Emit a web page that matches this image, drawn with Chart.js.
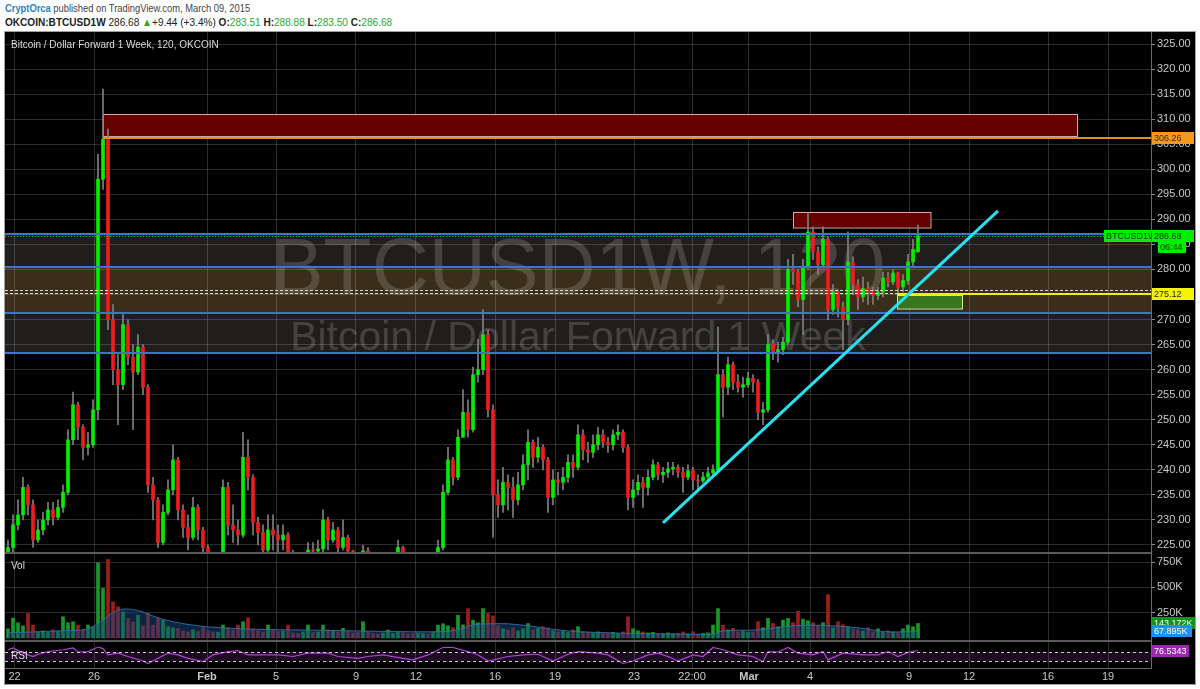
<!DOCTYPE html>
<html>
<head>
<meta charset="utf-8">
<script src="https://cdn.jsdelivr.net/npm/chart.js@4.4.1/dist/chart.umd.min.js"></script>
<style>
body{margin:0;background:#fff;width:1200px;height:689px;overflow:hidden;font-family:"Liberation Sans",Arial,sans-serif}
#h1{position:absolute;left:5px;top:1px;font-size:11px;line-height:14px;color:#444;white-space:nowrap;transform:scaleX(0.85);transform-origin:0 0}
#h2{position:absolute;left:5px;top:15px;font-size:11px;line-height:14px;color:#222;white-space:nowrap;transform:scaleX(0.915);transform-origin:0 0}
#h1 .who{color:#2a84c6;font-weight:bold}
#h2 .g{color:#2ea82e}
#box{position:absolute;left:5px;top:32px;width:1190px;height:652px;background:#000;box-shadow:0 0 0 1px #a0a0a0}
</style>
</head>
<body>
<div id="h1"><span class="who">CryptOrca</span> published on TradingView.com, March 09, 2015</div>
<div id="h2"><b>OKCOIN:BTCUSD1W</b> 286.68 <span class="g">&#9650;</span>+9.44 (+3.4%) <b>O:</b><span class="g">283.51</span> <b>H:</b><span class="g">288.88</span> <b>L:</b><span class="g">283.50</span> <b>C:</b><span class="g">286.68</span></div>
<div id="box"><canvas id="c" width="1190" height="652"></canvas></div>
<script>
// 2h-ish bars (bar index on x)
const opens = [
  222, 224.5, 229, 231, 236.5, 233, 226, 228, 230, 232,
  230.5, 232.5, 235.5, 246, 253, 248.5, 244.5, 245, 252, 298,
  306, 270, 260, 257, 269, 262.5, 259.5, 264.5, 256.5, 237,
  234, 225.5, 231.5, 236, 242, 232, 228.5, 226.5, 232.5, 228,
  224.5, 221, 220, 221, 236.5, 229, 228, 227, 242.5, 238.5,
  229.5, 227.5, 224, 228, 227, 226, 227, 223, 221, 220,
  221, 224, 223.8, 224.2, 230, 226, 228, 224.5, 226.5, 223.8,
  221, 220.5, 223.8, 221, 220, 219.5, 220, 221.5, 222, 224.5,
  222, 219.5, 218.5, 219, 220, 219, 221, 224.5, 235.5, 242,
  238.5, 246.5, 251.5, 248, 259, 260, 267, 252, 235, 233,
  237.5, 236.5, 234, 237, 241, 245.5, 242.5, 244.5, 242, 234.5,
  238, 237.5, 238.5, 241.5, 240.5, 247, 244, 243.5, 245, 247,
  245.5, 245, 247, 247.5, 244.5, 234.5, 236, 237.5, 236.5, 238.5,
  241, 239, 239.5, 240.2, 240.5, 239.5, 238.5, 239.8, 238, 237.8,
  238.6, 239.4, 240, 259, 256.5, 261, 257.5, 256.5, 257, 258.3,
  257.5, 251.5, 252, 265, 263.5, 264, 265.5, 280, 279.5, 274,
  280.5, 287.5, 283.5, 281, 286, 272, 275.5, 272.5, 270, 281.5,
  277, 274.5, 276.2, 275.5, 274.8, 275.5, 278.3, 277.5, 279.3, 276.5,
  277.8, 281.5, 283.51
];
const highs = [
  226, 231, 234, 238.5, 237, 234, 230, 231.5, 233.5, 233.5,
  234, 237, 248, 255.5, 253.5, 249, 247.5, 254, 303, 316,
  308, 273, 263, 271, 270, 265, 267, 265, 257, 238.5,
  234.5, 233, 238, 245, 242.5, 233, 231, 234.5, 233, 228.5,
  225, 222.5, 223, 238, 237.5, 233, 230, 247.5, 246, 239,
  230.5, 229, 231, 231, 229, 229, 227.5, 224, 222.5, 223,
  225.5, 225.5, 226, 232, 230.5, 229.5, 228.5, 230, 227, 224,
  222.5, 225, 224.5, 222, 222, 222.5, 223, 223.2, 226, 224.8,
  222.5, 221, 221.5, 222, 221.5, 222.5, 226, 237, 244.5, 242.5,
  248, 256, 254, 260.5, 266, 272, 268, 253, 238, 240.5,
  239, 238.5, 239.5, 243, 248, 246, 246.5, 245, 242.5, 240,
  239.5, 240.5, 243, 243, 249, 248, 245.5, 247, 248.5, 248,
  246.5, 248, 249, 248, 245, 238, 239, 238.5, 240, 242,
  241.5, 240.5, 241.5, 241.5, 241, 240.5, 241, 240.5, 239, 239.5,
  240.5, 241, 268.5, 260, 262.5, 261.5, 259, 258.5, 259.5, 259,
  258, 253.5, 267, 266, 265.5, 266.5, 282, 283, 280, 282,
  291.3, 288.5, 284.5, 288.5, 286.5, 277, 276, 273.5, 287.5, 282.5,
  278, 278.5, 277.5, 276.5, 276.5, 279.5, 279.5, 280, 279.5, 279,
  283, 286, 288.88
];
const lows = [
  221, 223, 228, 230, 231, 224.5, 225.5, 227, 229, 229,
  230, 231.5, 235, 245, 246, 242, 243, 244.5, 250, 296,
  268, 257, 249, 256, 261, 248, 259, 255, 235.5, 230,
  224.5, 225, 231, 235, 230, 226.5, 224, 226, 226, 222,
  219, 218, 219, 221, 227, 225.5, 225, 226.5, 236, 227,
  225, 223, 223, 224, 223.5, 224, 221, 219, 218, 219,
  220.5, 222, 222.5, 223.5, 224, 225.5, 223.5, 224, 222, 219,
  219, 220, 219, 218, 218, 218.5, 219, 220, 221, 220,
  218, 217, 217.5, 218, 217.5, 218.5, 220, 224, 235, 237,
  238, 246.5, 246.5, 247.5, 257.5, 259, 250.5, 226.5, 230.5, 231.5,
  232, 230.5, 233, 236, 238, 240.5, 241.5, 240, 231.5, 233,
  235, 236, 237.5, 238.5, 240, 242, 241.5, 242.5, 244, 244.5,
  243.5, 244, 246, 243.5, 232, 232.5, 235, 232.5, 235, 238,
  238, 237.5, 238.5, 239, 238.5, 235.5, 238, 236, 236, 237.5,
  238, 238.5, 239.5, 250.5, 255, 256, 255.5, 254.5, 256.5, 255.5,
  250, 249, 251.5, 262, 261.5, 263, 265, 277, 272.5, 267,
  280, 282, 279, 280.5, 270, 271, 270.5, 264, 269, 275,
  272, 273.5, 273, 273, 274, 274.5, 276.5, 277, 275, 275.5,
  277, 280.5, 283.5
];
const closes = [
  224.5, 229, 231, 236.5, 233, 226, 228, 230, 232, 230.5,
  232.5, 235.5, 246, 253, 248.5, 244.5, 245, 252, 298, 306,
  270, 260, 257, 269, 262.5, 259.5, 264.5, 256.5, 237, 234,
  225.5, 231.5, 236, 242, 232, 228.5, 226.5, 232.5, 228, 224.5,
  221, 220, 221, 236.5, 229, 228, 227, 242.5, 238.5, 229.5,
  227.5, 224, 228, 227, 226, 227, 223, 221, 220, 221,
  224, 223.8, 224.2, 230, 226, 228, 224.5, 226.5, 223.8, 221,
  220.5, 223.8, 221, 220, 219.5, 220, 221.5, 222, 224.5, 222,
  219.5, 218.5, 219, 220, 219, 221, 224.5, 235.5, 242, 238.5,
  246.5, 251.5, 248, 259, 260, 267, 252, 235, 233, 237.5,
  236.5, 234, 237, 241, 245.5, 242.5, 244.5, 242, 234.5, 238,
  237.5, 238.5, 241.5, 240.5, 247, 244, 243.5, 245, 247, 245.5,
  245, 247, 247.5, 244.5, 234.5, 236, 237.5, 236.5, 238.5, 241,
  239, 239.5, 240.2, 240.5, 239.5, 238.5, 239.8, 238, 237.8, 238.6,
  239.4, 240, 259, 256.5, 261, 257.5, 256.5, 257, 258.3, 257.5,
  251.5, 252, 265, 263.5, 264, 265.5, 280, 279.5, 274, 280.5,
  287.5, 283.5, 281, 286, 272, 275.5, 272.5, 270, 281.5, 277,
  274.5, 276.2, 275.5, 274.8, 275.5, 278.3, 277.5, 279.3, 276.5, 277.8,
  281.5, 284, 286.68
];
// volume in K
const vols = [
  90, 196, 150, 120, 242, 127, 60, 70, 55, 80,
  65, 209, 150, 160, 127, 80, 127, 110, 742, 490,
  775, 356, 307, 258, 193, 160, 225, 120, 242, 127,
  193, 176, 111, 100, 95, 70, 60, 80, 65, 111,
  70, 60, 55, 127, 100, 80, 127, 160, 200, 90,
  70, 60, 127, 80, 65, 70, 127, 50, 45, 60,
  127, 55, 60, 127, 80, 70, 60, 95, 65, 50,
  55, 160, 60, 45, 40, 50, 78, 45, 60, 50,
  40, 45, 50, 45, 40, 55, 127, 140, 120, 100,
  225, 130, 290, 176, 150, 290, 242, 218, 120, 90,
  80, 100, 70, 90, 143, 80, 95, 111, 100, 70,
  60, 65, 55, 80, 111, 60, 55, 50, 60, 45,
  50, 55, 45, 60, 209, 90, 70, 60, 50, 55,
  45, 40, 50, 40, 45, 60, 40, 62, 40, 45,
  50, 127, 290, 127, 80, 95, 60, 70, 55, 60,
  160, 100, 193, 143, 110, 176, 193, 150, 265, 186,
  170, 150, 120, 150, 428, 100, 160, 130, 110, 90,
  80, 70, 100, 60, 90, 55, 70, 60, 50, 90,
  127, 110, 143.172
];
const volMA = [[0,50],[10,70],[16,90],[19,180],[21,250],[23,285],[26,270],[30,200],[33,160],[38,120],[43,100],[50,85],[60,78],[75,65],[86,62],[90,80],[93,130],[97,140],[100,140],[104,120],[110,80],[115,60],[125,45],[135,38],[141,38],[143,70],[150,80],[155,110],[160,127],[165,120],[170,100],[176,60],[182,67.895]];
const rsiLine = [[0,80],[1,88],[3,65],[5,50],[6,60],[8,72],[11,80],[13,88],[14,70],[16,72],[18,92],[19,85],[20,57],[22,65],[24,50],[27,30],[28,19],[30,42],[32,65],[34,57],[36,42],[39,27],[41,57],[44,72],[46,76],[48,57],[51,57],[54,57],[57,50],[60,65],[64,65],[66,50],[70,42],[72,50],[75,57],[79,42],[81,35],[84,57],[87,90],[89,90],[92,72],[94,57],[96,30],[100,50],[103,57],[106,60],[109,30],[112,60],[114,72],[118,65],[120,57],[123,19],[125,30],[128,57],[130,65],[132,50],[134,30],[137,57],[139,50],[141,90],[143,80],[146,57],[149,50],[151,27],[152,72],[154,70],[156,90],[158,65],[161,57],[163,72],[164,35],[167,65],[171,57],[174,57],[176,72],[178,50],[180,68],[182,76.5343]];

const xTickPos = [1.3, 17.2, 39.8, 53.6, 69.6, 81.6, 97.4, 109.4, 125.2, 136.8, 148.2, 160.4, 180.2, 192.2, 208, 220];
const xTickLabels = ['22','26','Feb','5','9','12','16','19','23','22:00','Mar','4','9','12','16','19'];
const priceTicks = [225,230,235,240,245,250,255,260,265,270,275,280,285,290,295,300,305,310,315,320,325];
const volTicks = [250, 500, 750];

// drawings on the price pane
const bandOuter = [263.4, 287.0];
const bandInner = [271.4, 280.4];
const blueLevels = [287.0, 280.4, 271.4, 263.4];
const dashLevels = [275.9, 275.3];
const redZones = [[19, 213.8, 306.6, 311.0], [157, 184.5, 288.4, 291.5]];
const greenZone = [177.8, 190.8, 272.2, 274.9];
const orangeLine = [19, 306.26];
const yellowLine = [177.8, 275.12];
const lastPrice = 286.68;
const trend = [[131, 229.4], [198, 291.7]];
const rsiBand = [30, 70];

const idx = closes.map((c, i) => i);
const up = i => closes[i] >= opens[i];
const FONT = '"Liberation Sans", Arial, sans-serif';

function tag(ctx, x, yc, w, text, bg, fg) {
  ctx.fillStyle = bg;
  ctx.fillRect(x, Math.round(yc - 6), w, 12);
  ctx.fillStyle = fg;
  ctx.font = '9px ' + FONT;
  ctx.textAlign = 'left';
  ctx.textBaseline = 'middle';
  ctx.fillText(text, x + 2, Math.round(yc) + 0.5);
}

function hline(ctx, x0, x1, y, color, w, dash) {
  ctx.beginPath();
  ctx.strokeStyle = color;
  ctx.lineWidth = w;
  ctx.setLineDash(dash || []);
  ctx.moveTo(x0, y);
  ctx.lineTo(x1, y);
  ctx.stroke();
  ctx.setLineDash([]);
}

const drawings = {
  id: 'drawings',
  beforeDraw(chart) {
    const {ctx, chartArea: a, scales} = chart;
    const y = scales.y, yr = scales.yr;
    ctx.save();
    ctx.fillStyle = '#1f1e1c';
    ctx.fillRect(a.left, y.getPixelForValue(bandOuter[1]), a.width, y.getPixelForValue(bandOuter[0]) - y.getPixelForValue(bandOuter[1]));
    ctx.fillStyle = '#3a2d19';
    ctx.fillRect(a.left, y.getPixelForValue(bandInner[1]), a.width, y.getPixelForValue(bandInner[0]) - y.getPixelForValue(bandInner[1]));
    ctx.fillStyle = '#1c0b22';
    ctx.fillRect(a.left, yr.getPixelForValue(rsiBand[1]), a.width, yr.getPixelForValue(rsiBand[0]) - yr.getPixelForValue(rsiBand[1]));
    ctx.restore();
  },
  beforeDatasetsDraw(chart) {
    const {ctx, chartArea: a, scales} = chart;
    const x = scales.x, y = scales.y;
    ctx.save();
    ctx.beginPath();
    ctx.rect(a.left, y.top, a.width, y.height);
    ctx.clip();
    // watermark
    const cx = (a.left + a.right) / 2;
    ctx.fillStyle = 'rgba(255,255,255,0.16)';
    ctx.textAlign = 'center';
    ctx.textBaseline = 'middle';
    ctx.font = '79px ' + FONT;
    ctx.fillText('BTCUSD1W, 120', cx, 240);
    ctx.font = '41px ' + FONT;
    ctx.fillText('Bitcoin / Dollar Forward 1 Week', cx, 307);
    // zones
    redZones.forEach(z => {
      const x0 = x.getPixelForValue(z[0]), x1 = x.getPixelForValue(z[1]);
      const y0 = y.getPixelForValue(z[3]), y1 = y.getPixelForValue(z[2]);
      ctx.fillStyle = '#660000';
      ctx.fillRect(x0, y0, x1 - x0, y1 - y0);
      ctx.strokeStyle = '#d8a8a8';
      ctx.lineWidth = 1;
      ctx.strokeRect(Math.round(x0) + 0.5, Math.round(y0) + 0.5, x1 - x0, y1 - y0);
    });
    const gx0 = x.getPixelForValue(greenZone[0]), gx1 = x.getPixelForValue(greenZone[1]);
    const gy0 = y.getPixelForValue(greenZone[3]), gy1 = y.getPixelForValue(greenZone[2]);
    ctx.fillStyle = '#38761d';
    ctx.fillRect(gx0, gy0, gx1 - gx0, gy1 - gy0);
    ctx.strokeStyle = '#cfe8a0';
    ctx.strokeRect(Math.round(gx0) + 0.5, Math.round(gy0) + 0.5, gx1 - gx0, gy1 - gy0);
    ctx.restore();
  },
  afterDatasetsDraw(chart) {
    const {ctx, chartArea: a, scales} = chart;
    const x = scales.x, y = scales.y, yv = scales.yv, yr = scales.yr;
    ctx.save();
    ctx.beginPath();
    ctx.rect(a.left, y.top, a.width, y.height);
    ctx.clip();
    blueLevels.forEach(v => hline(ctx, a.left, a.right, Math.round(y.getPixelForValue(v)), '#3f74cc', 2));
    dashLevels.forEach(v => hline(ctx, a.left, a.right, Math.round(y.getPixelForValue(v)) + 0.5, '#e0dccc', 1, [3, 2]));
    hline(ctx, a.left, a.right, Math.round(y.getPixelForValue(lastPrice)) + 0.5, '#00d000', 1, [1, 2]);
    hline(ctx, x.getPixelForValue(orangeLine[0]), a.right, Math.round(y.getPixelForValue(orangeLine[1])), '#e8900e', 2);
    hline(ctx, x.getPixelForValue(yellowLine[0]), a.right, Math.round(y.getPixelForValue(yellowLine[1])), '#f0f000', 2);
    ctx.beginPath();
    ctx.strokeStyle = '#27e1f2';
    ctx.lineWidth = 3;
    ctx.moveTo(x.getPixelForValue(trend[0][0]), y.getPixelForValue(trend[0][1]));
    ctx.lineTo(x.getPixelForValue(trend[1][0]), y.getPixelForValue(trend[1][1]));
    ctx.stroke();
    ctx.restore();

    ctx.save();
    rsiBand.forEach(v => hline(ctx, a.left, a.right, Math.round(yr.getPixelForValue(v)) + 0.5, '#cfcfcf', 1, [3, 3]));
    hline(ctx, a.left, a.right, yv.top, '#5a5a5a', 2);
    hline(ctx, a.left, a.right, yr.top, '#5a5a5a', 2);
    ctx.fillStyle = '#dcdcdc';
    ctx.font = '10px ' + FONT;
    ctx.textAlign = 'left';
    ctx.textBaseline = 'middle';
    ctx.fillText('Bitcoin / Dollar Forward 1 Week, 120, OKCOIN', a.left + 6, y.top + 13);
    ctx.fillText('Vol', a.left + 6, yv.top + 13);
    ctx.fillText('RSI', a.left + 6, yr.top + 15);
    ctx.restore();
  },
  afterDraw(chart) {
    const {ctx, chartArea: a, scales} = chart;
    const y = scales.y, yv = scales.yv, yr = scales.yr;
    const r = a.right;
    ctx.save();
    tag(ctx, r + 1, y.getPixelForValue(orangeLine[1]), 42, '306.26', '#f39a1e', '#3a2a10');
    tag(ctx, r - 47, y.getPixelForValue(lastPrice), 47, 'BTCUSD1W', '#00ee00', '#0a3a0a');
    tag(ctx, r + 1, y.getPixelForValue(lastPrice), 42, '286.68', '#00ee00', '#0a3a0a');
    tag(ctx, r + 7, y.getPixelForValue(lastPrice) + 11, 28, '06:44', '#00ee00', '#0a3a0a');
    tag(ctx, r + 1, y.getPixelForValue(yellowLine[1]), 42, '275.12', '#f5f500', '#222');
    tag(ctx, r + 1, yv.getPixelForValue(vols[vols.length - 1]), 43, '143.172K', '#14901e', '#fff');
    tag(ctx, r + 1, yv.getPixelForValue(volMA[volMA.length - 1][1]), 40, '67.895K', '#1e90f0', '#fff');
    tag(ctx, r + 1, yr.getPixelForValue(rsiLine[rsiLine.length - 1][1]), 37, '76.5343', '#9c27b0', '#fff');
    ctx.restore();
  }
};

const gridCol = 'rgba(255,255,255,0.17)';
const rightAxis = s => { s.width = 44; s.paddingTop = 0; s.paddingBottom = 0; };

new Chart(document.getElementById('c'), {
  type: 'bar',
  data: {
    datasets: [
      {
        label: 'body', yAxisID: 'y', order: 1, grouped: false, barThickness: 3,
        data: idx.map(i => ({x: i, y: [opens[i], closes[i]]})),
        backgroundColor: c => up(c.dataIndex) ? '#00f000' : '#ee1c1c'
      },
      {
        label: 'wick', yAxisID: 'y', order: 2, grouped: false, barThickness: 1,
        data: idx.map(i => ({x: i, y: [lows[i], highs[i]]})),
        backgroundColor: '#808080'
      },
      {
        type: 'line', label: 'volMA', yAxisID: 'yv', order: 0,
        data: volMA.map(p => ({x: p[0], y: p[1]})),
        fill: 'origin', backgroundColor: 'rgba(22,72,125,0.5)', borderColor: 'rgba(50,110,170,0.9)',
        borderWidth: 1, pointRadius: 0, tension: 0.35
      },
      {
        label: 'vol', yAxisID: 'yv', order: 3, grouped: false, barThickness: 3,
        data: idx.map(i => ({x: i, y: vols[i]})),
        backgroundColor: c => up(c.dataIndex) ? '#17992a' : '#9e1d1d'
      },
      {
        type: 'line', label: 'rsi', yAxisID: 'yr', order: 0,
        data: rsiLine.map(p => ({x: p[0], y: p[1]})),
        borderColor: '#b540d8', borderWidth: 1.2, pointRadius: 0, fill: false
      }
    ]
  },
  options: {
    responsive: false,
    animation: false,
    devicePixelRatio: 1,
    layout: {padding: 0},
    plugins: {legend: {display: false}, tooltip: {enabled: false}},
    scales: {
      y: {
        type: 'linear', position: 'right', stack: 'panes', stackWeight: 521,
        min: 223.4, max: 327.4,
        afterBuildTicks: s => { s.ticks = priceTicks.map(v => ({value: v})); },
        afterFit: rightAxis,
        ticks: {color: '#c8c8c8', autoSkip: false, font: {size: 11, family: FONT}, padding: 2, callback: v => v.toFixed(2)},
        grid: {color: gridCol, tickLength: 4, tickColor: '#8a8a8a'},
        border: {color: '#6a6a6a'}
      },
      yv: {
        type: 'linear', position: 'right', stack: 'panes', stackWeight: 88,
        min: -30, max: 839,
        afterBuildTicks: s => { s.ticks = volTicks.map(v => ({value: v})); },
        afterFit: rightAxis,
        ticks: {color: '#c8c8c8', autoSkip: false, font: {size: 11, family: FONT}, padding: 2, callback: v => v + 'K'},
        grid: {color: gridCol, tickLength: 4, tickColor: '#8a8a8a'},
        border: {color: '#6a6a6a'}
      },
      yr: {
        type: 'linear', position: 'right', stack: 'panes', stackWeight: 27,
        min: -1.1, max: 118.9,
        afterBuildTicks: s => { s.ticks = []; },
        afterFit: rightAxis,
        ticks: {display: false},
        grid: {display: false},
        border: {color: '#6a6a6a'}
      },
      x: {
        type: 'linear', position: 'bottom', min: -0.6, max: 228.6, offset: false,
        afterBuildTicks: s => { s.ticks = xTickPos.map(v => ({value: v})); },
        afterFit: s => { s.height = 16; s.paddingLeft = 0; s.paddingRight = 0; },
        ticks: {
          color: '#c8c8c8', autoSkip: false, maxRotation: 0, padding: 2,
          font: c => ({size: 11, family: FONT, weight: (c.index === 2 || c.index === 10) ? 'bold' : 'normal'}),
          callback: (v, i) => xTickLabels[i]
        },
        grid: {color: gridCol, offset: false, drawTicks: false},
        border: {color: '#6a6a6a'}
      }
    }
  },
  plugins: [drawings]
});
</script>
</body>
</html>
